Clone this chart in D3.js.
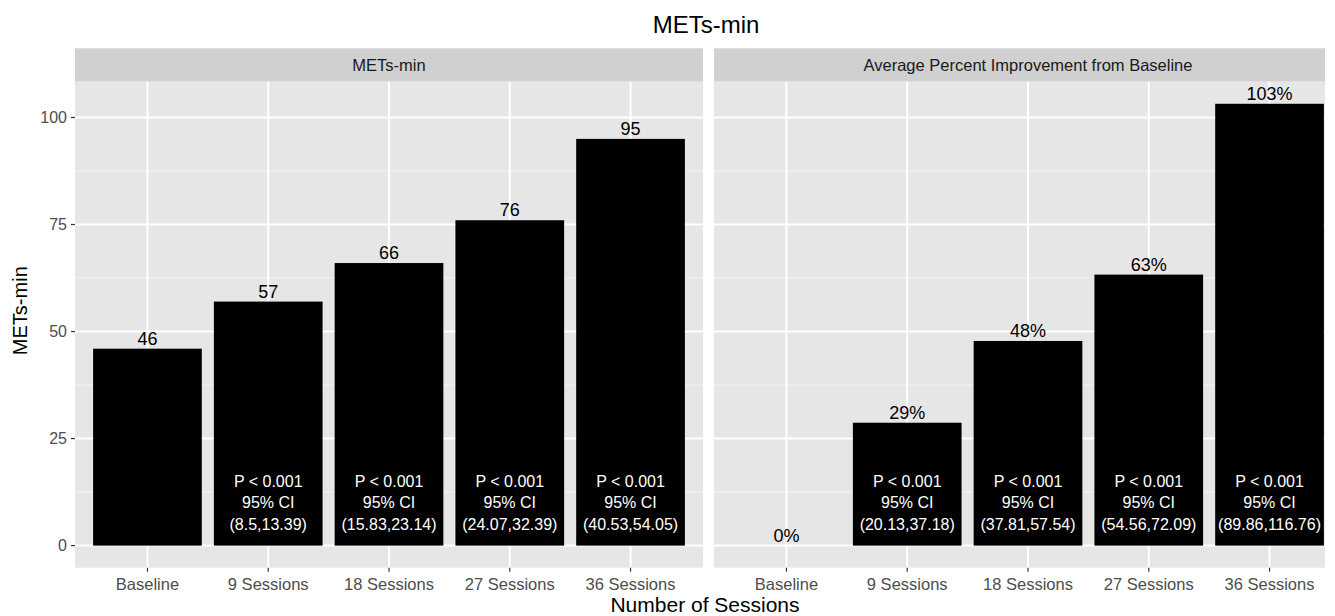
<!DOCTYPE html>
<html>
<head>
<meta charset="utf-8">
<script src="https://cdn.jsdelivr.net/npm/d3@7"></script>
<style>
  html, body { margin: 0; padding: 0; background: #ffffff; }
  svg { display: block; }
  text { font-family: "Liberation Sans", Arial, Helvetica, sans-serif; }
</style>
</head>
<body>
<svg id="chart" width="1335" height="616"></svg>
<script>
// ---------- data ----------
const categories = ["Baseline", "9 Sessions", "18 Sessions", "27 Sessions", "36 Sessions"];
const panelTitles = ["METs-min", "Average Percent Improvement from Baseline"];
const metsValues = [46, 57, 66, 76, 95];
const metsLabels = ["46", "57", "66", "76", "95"];
const pctValues = [0, 28.7, 47.8, 63.3, 103.2];
const pctLabels = ["0%", "29%", "48%", "63%", "103%"];
const metsNotes = ["", "P < 0.001|95% CI|(8.5,13.39)", "P < 0.001|95% CI|(15.83,23.14)", "P < 0.001|95% CI|(24.07,32.39)", "P < 0.001|95% CI|(40.53,54.05)"];
const pctNotes = ["", "P < 0.001|95% CI|(20.13,37.18)", "P < 0.001|95% CI|(37.81,57.54)", "P < 0.001|95% CI|(54.56,72.09)", "P < 0.001|95% CI|(89.86,116.76)"];
const yTicks = [0, 25, 50, 75, 100];
const yMinor = [12.5, 37.5, 62.5, 87.5];
const noteY = 10; // data position of the middle line of in-bar notes

// ---------- layout ----------
const svg = d3.select("#chart");
const panelTop = 81.7, panelBottom = 567.7;
const stripTop = 48.3;
const panels = [
  { x0: 75, x1: 703, values: metsValues, labels: metsLabels, notes: metsNotes, title: panelTitles[0] },
  { x0: 714, x1: 1342, values: pctValues, labels: pctLabels, notes: pctNotes, title: panelTitles[1] }
];

const yMax = d3.max(metsValues.concat(pctValues));
const yExp = (yMax - 0) * 0.05;
const y = d3.scaleLinear().domain([0 - yExp, yMax + yExp]).range([panelBottom, panelTop]);

svg.append("defs").append("clipPath").attr("id", "clipAll")
  .append("rect").attr("x", 0).attr("y", 0).attr("width", 1325).attr("height", 616);

const root = svg.append("g").attr("clip-path", "url(#clipAll)");

panels.forEach((p, pi) => {
  const x = d3.scaleLinear().domain([-0.6, categories.length - 1 + 0.6]).range([p.x0, p.x1]);
  const unit = x(1) - x(0);
  const g = root.append("g");

  // strip
  g.append("rect").attr("x", p.x0).attr("y", stripTop).attr("width", p.x1 - p.x0)
    .attr("height", panelTop - stripTop).attr("fill", "#d0d0d0");
  g.append("text").attr("x", (p.x0 + p.x1) / 2).attr("y", (stripTop + panelTop) / 2)
    .attr("dy", "0.35em").attr("text-anchor", "middle").attr("font-size", 16.5).attr("fill", "#1a1a1a")
    .text(p.title);

  // panel background
  g.append("rect").attr("x", p.x0).attr("y", panelTop).attr("width", p.x1 - p.x0)
    .attr("height", panelBottom - panelTop).attr("fill", "#e6e6e6");

  // grid
  g.selectAll(".minor").data(yMinor).join("line")
    .attr("x1", p.x0).attr("x2", p.x1).attr("y1", d => y(d)).attr("y2", d => y(d))
    .attr("stroke", "#f4f4f4").attr("stroke-width", 1);
  g.selectAll(".major").data(yTicks).join("line")
    .attr("x1", p.x0).attr("x2", p.x1).attr("y1", d => y(d)).attr("y2", d => y(d))
    .attr("stroke", "#ffffff").attr("stroke-width", 2);
  g.selectAll(".vmajor").data(categories).join("line")
    .attr("x1", (d, i) => x(i)).attr("x2", (d, i) => x(i)).attr("y1", panelTop).attr("y2", panelBottom)
    .attr("stroke", "#ffffff").attr("stroke-width", 2);

  // bars
  g.selectAll(".bar").data(p.values).join("rect")
    .attr("x", (d, i) => x(i) - 0.45 * unit).attr("width", 0.9 * unit)
    .attr("y", d => y(Math.max(d, 0))).attr("height", d => Math.abs(y(0) - y(d)))
    .attr("fill", "#000000");

  // value labels
  g.selectAll(".vlab").data(p.values).join("text")
    .attr("x", (d, i) => x(i)).attr("y", d => y(d) - 4)
    .attr("text-anchor", "middle").attr("font-size", 18).attr("fill", "#000000")
    .text((d, i) => p.labels[i]);

  // in-bar notes
  p.notes.forEach((n, i) => {
    if (!n) return;
    const lines = n.split("|");
    const t = g.append("text").attr("text-anchor", "middle").attr("font-size", 16).attr("fill", "#ffffff");
    lines.forEach((ln, k) => {
      t.append("tspan").attr("x", x(i)).attr("y", y(noteY) + (k - 1) * 21.5).attr("dy", "0.35em").text(ln);
    });
  });

  // x axis ticks
  const xa = root.append("g");
  categories.forEach((c, i) => {
    xa.append("line").attr("x1", x(i)).attr("x2", x(i)).attr("y1", panelBottom).attr("y2", panelBottom + 4)
      .attr("stroke", "#333333").attr("stroke-width", 1.2);
    xa.append("text").attr("x", x(i)).attr("y", panelBottom + 22).attr("text-anchor", "middle")
      .attr("font-size", 16.5).attr("fill", "#4d4d4d").text(c);
  });

  // y axis (left panel only)
  if (pi === 0) {
    const ya = root.append("g");
    yTicks.forEach(t => {
      ya.append("line").attr("x1", p.x0 - 4).attr("x2", p.x0).attr("y1", y(t)).attr("y2", y(t))
        .attr("stroke", "#333333").attr("stroke-width", 1.2);
      ya.append("text").attr("x", p.x0 - 8).attr("y", y(t)).attr("dy", "0.35em").attr("text-anchor", "end")
        .attr("font-size", 16).attr("fill", "#4d4d4d").text(t);
    });
  }
});

// titles
svg.append("text").attr("x", 706).attr("y", 33).attr("text-anchor", "middle")
  .attr("font-size", 24).attr("fill", "#000000").text("METs-min");
svg.append("text").attr("x", 705).attr("y", 612).attr("text-anchor", "middle")
  .attr("font-size", 21).attr("fill", "#000000").text("Number of Sessions");
svg.append("text").attr("transform", "translate(27," + ((panelTop + panelBottom) / 2 - 14) + ") rotate(-90)")
  .attr("text-anchor", "middle").attr("font-size", 20).attr("fill", "#000000").text("METs-min");
</script>
</body>
</html>
